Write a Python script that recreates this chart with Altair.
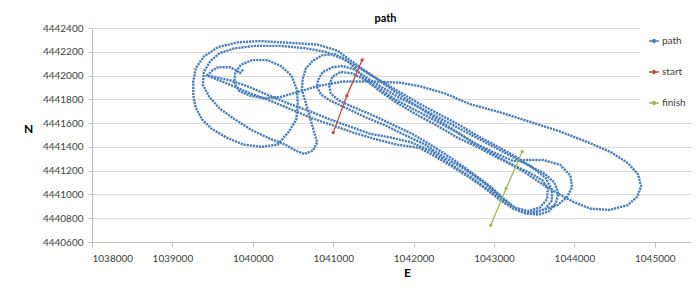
import altair as alt
import pandas as pd

# path: first traced run (hook, straight run, four narrow loops, small lobe)
run1_E = [1039880, 1039840, 1039800, 1039720, 1039570, 1039510, 1039430,
          1039690, 1039970, 1040210, 1040460, 1040740, 1041000, 1041250, 1041500, 1041790, 1042080,
          1042290, 1042490, 1042700, 1042910, 1043080, 1043240, 1043390, 1043550, 1043690, 1043770,
          1043800, 1043750, 1043640, 1043470, 1043300,
          1043080, 1042830, 1042580, 1042330, 1042080, 1041830, 1041610, 1041420, 1041270,
          1041120, 1040990, 1040870, 1040810, 1040800, 1040850, 1040960,
          1041150, 1041400, 1041650, 1041890, 1042140, 1042390, 1042640, 1042890, 1043080, 1043240,
          1043410, 1043610, 1043790, 1043910, 1043970, 1043950, 1043820, 1043610, 1043410, 1043240,
          1043010, 1042760, 1042520, 1042270, 1042020, 1041770, 1041550, 1041380, 1041230,
          1041090, 1040990, 1040950, 1040970, 1041070,
          1041230, 1041480, 1041730, 1041980, 1042230, 1042480, 1042730, 1042950, 1043110, 1043260,
          1043420, 1043570, 1043660, 1043670, 1043600, 1043450, 1043260,
          1043040, 1042790, 1042540, 1042290, 1042040, 1041790, 1041580, 1041410, 1041270,
          1041170, 1041020, 1040860, 1040740, 1040660, 1040620, 1040610, 1040660, 1040710, 1040760,
          1040800, 1040750, 1040640, 1040530, 1040400,
          1040210, 1039990, 1039780, 1039590, 1039460, 1039380, 1039390, 1039470, 1039590, 1039780,
          1040030, 1040340, 1040650, 1040900, 1041120,
          1041330, 1041580, 1041830, 1042080, 1042330, 1042580, 1042830, 1043080, 1043290, 1043470,
          1043640, 1043720, 1043720, 1043640, 1043490, 1043320,
          1043160, 1042950, 1042700, 1042450, 1042200, 1041960, 1041710, 1041460, 1041210, 1040960,
          1040710, 1040460, 1040210, 1039970, 1039720, 1039440]
run1_N = [4442050, 4442020, 4442040, 4442070, 4442070, 4442050, 4442000,
          4441930, 4441850, 4441790, 4441720, 4441640, 4441580, 4441520, 4441470, 4441420, 4441390,
          4441310, 4441230, 4441140, 4441040, 4440950, 4440880, 4440840, 4440830, 4440860, 4440930,
          4441010, 4441100, 4441170, 4441230, 4441290,
          4441370, 4441460, 4441550, 4441640, 4441730, 4441810, 4441900, 4441980, 4442050,
          4442080, 4442070, 4442030, 4441960, 4441900, 4441840, 4441790,
          4441730, 4441650, 4441580, 4441500, 4441420, 4441310, 4441210, 4441090, 4440980, 4440880,
          4440840, 4440870, 4440910, 4440980, 4441060, 4441160, 4441250, 4441290, 4441290, 4441280,
          4441350, 4441430, 4441530, 4441620, 4441710, 4441800, 4441900, 4441970, 4442020,
          4442030, 4441990, 4441920, 4441850, 4441790,
          4441740, 4441670, 4441590, 4441510, 4441410, 4441300, 4441180, 4441070, 4440970, 4440890,
          4440860, 4440890, 4440960, 4441050, 4441120, 4441180, 4441240,
          4441310, 4441400, 4441480, 4441580, 4441670, 4441770, 4441870, 4441960, 4442060,
          4442130, 4442180, 4442170, 4442120, 4442060, 4441970, 4441880, 4441770, 4441650, 4441530,
          4441440, 4441370, 4441340, 4441370, 4441420,
          4441470, 4441540, 4441630, 4441720, 4441820, 4441920, 4442030, 4442120, 4442190, 4442230,
          4442250, 4442250, 4442230, 4442200, 4442140,
          4442060, 4441960, 4441860, 4441760, 4441670, 4441580, 4441480, 4441390, 4441310, 4441230,
          4441140, 4441040, 4440950, 4440880, 4440840, 4440860,
          4440930, 4441030, 4441150, 4441260, 4441370, 4441440, 4441480, 4441510, 4441570, 4441630,
          4441700, 4441760, 4441830, 4441900, 4441960, 4442000]

# path: second traced run (outer left loop, oval, long loop to the east)
run2_E = [1043140, 1042890, 1042640, 1042390, 1042140, 1041890, 1041650, 1041420, 1041230, 1041050,
          1040810, 1040590, 1040340, 1040090, 1039820, 1039570, 1039390, 1039290, 1039260, 1039260,
          1039290, 1039370, 1039490, 1039670, 1039880, 1040110, 1040310, 1040450, 1040540, 1040560,
          1040550, 1040480, 1040350, 1040180, 1039990, 1039850, 1039780, 1039770, 1039830, 1039970,
          1040150, 1040350, 1040550, 1040800, 1041120, 1041500, 1041830, 1042080, 1042390, 1042700,
          1043080, 1043450, 1043820, 1044200, 1044470, 1044670, 1044790, 1044830, 1044780, 1044660,
          1044440, 1044200, 1043980, 1043790, 1043570, 1043350, 1043140]
run2_N = [4441280, 4441380, 4441480, 4441590, 4441700, 4441810, 4441920, 4442030, 4442120, 4442210,
          4442260, 4442270, 4442280, 4442290, 4442280, 4442240, 4442160, 4442060, 4441950, 4441830,
          4441730, 4441630, 4441550, 4441480, 4441420, 4441400, 4441420, 4441530, 4441630, 4441750,
          4441880, 4442000, 4442080, 4442130, 4442130, 4442090, 4442020, 4441940, 4441870, 4441830,
          4441810, 4441820, 4441860, 4441910, 4441950, 4441950, 4441940, 4441910, 4441850, 4441760,
          4441690, 4441610, 4441530, 4441430, 4441350, 4441260, 4441170, 4441070, 4440980, 4440910,
          4440870, 4440880, 4440940, 4441010, 4441100, 4441200, 4441280]

start_E = [1041000, 1041170, 1041360]
start_N = [4441520, 4441830, 4442130]
finish_E = [1042960, 1043150, 1043350]
finish_N = [4440740, 4441050, 4441360]

series_names = ["path", "start", "finish"]
series_colors = ["#4A7EBB", "#BE4B48", "#9BBB59"]
x_ticks = [1038000, 1039000, 1040000, 1041000, 1042000, 1043000, 1044000, 1045000]
y_ticks = [4440600, 4440800, 4441000, 4441200, 4441400, 4441600, 4441800, 4442000, 4442200, 4442400]

rows = []
for seg, (es, ns, name) in enumerate([(run1_E, run1_N, "path"), (run2_E, run2_N, "path"),
                                      (start_E, start_N, "start"), (finish_E, finish_N, "finish")]):
    for i, (e, n) in enumerate(zip(es, ns)):
        rows.append({"E": e, "N": n, "series": name, "seg": seg, "idx": i})
df = pd.DataFrame(rows)

FONT = "Lato"
x = alt.X("E:Q", scale=alt.Scale(domain=[1038000, 1045450], nice=False, zero=False),
          axis=alt.Axis(values=x_ticks, format="d", title="E", grid=False,
                        domainColor="#BFBFBF", tickColor="#BFBFBF", tickSize=5,
                        labelFont=FONT, labelFontSize=10, labelColor="#404040", labelPadding=6,
                        titleFont=FONT, titleFontSize=12, titleFontWeight="bold", titleColor="#000000",
                        titleX=315, titleY=30, titleBaseline="middle", titleAlign="center"))
y = alt.Y("N:Q", scale=alt.Scale(domain=[4440600, 4442400], nice=False, zero=False),
          axis=alt.Axis(values=y_ticks, format="d", title="N", grid=True, gridColor="#D9D9D9",
                        domainColor="#BFBFBF", tickColor="#BFBFBF", tickSize=4,
                        labelFont=FONT, labelFontSize=10, labelColor="#404040", labelPadding=5,
                        titleFont=FONT, titleFontSize=12, titleFontWeight="bold", titleColor="#000000",
                        titleAngle=0, titleX=-64, titleY=100, titleBaseline="middle", titleAlign="center"))
color = alt.Color("series:N",
                  scale=alt.Scale(domain=series_names, range=series_colors),
                  legend=alt.Legend(title=None, orient="none", legendX=548, legendY=-1,
                                    fillColor="white", padding=8, rowPadding=20,
                                    labelFont=FONT, labelFontSize=10, labelColor="#404040",
                                    symbolType="M-1,0H1M-0.3,0A0.3,0.3,0,1,1,0.3,0A0.3,0.3,0,1,1,-0.3,0Z",
                                    symbolSize=100, symbolStrokeWidth=1.3, labelOffset=2))

base = alt.Chart(df).encode(x=x, y=y, color=color, detail="seg:N", order="idx:Q")
path_line = base.transform_filter(alt.datum.series == "path").mark_line(
    strokeWidth=2.4, strokeDash=[2.2, 0.9], clip=True)
marks_line = base.transform_filter(alt.datum.series != "path").mark_line(strokeWidth=1.3, clip=True)
marks_pt = base.transform_filter(alt.datum.series != "path").mark_point(
    filled=True, size=12, opacity=1, clip=True)

chart = alt.layer(path_line, marks_line, marks_pt).properties(
    width=599, height=214,
    title=alt.TitleParams("path", font=FONT, fontSize=11, fontWeight="bold", color="#000000",
                          offset=-1, dx=-6, frame="group"),
    autosize=alt.AutoSizeParams(type="none"),
    padding={"left": 84, "top": 20, "right": 0, "bottom": 36},
).configure_view(stroke=None).configure(background="white")

chart.save("out.html", embed_options={"renderer": "svg", "actions": False})
